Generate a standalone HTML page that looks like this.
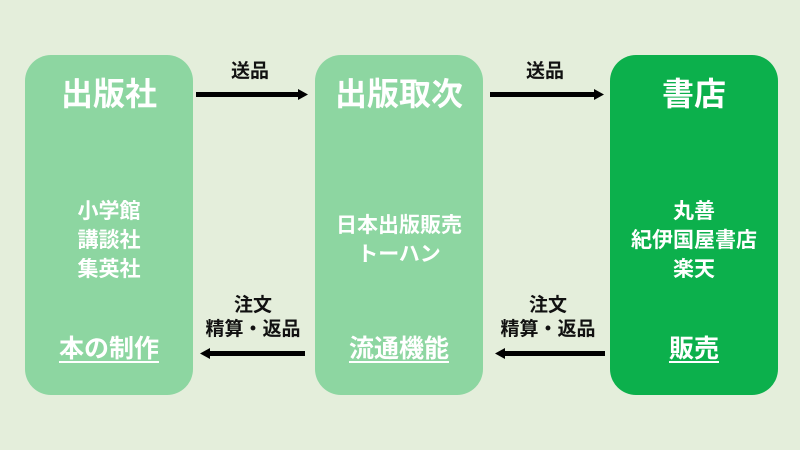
<!DOCTYPE html>
<html><head><meta charset="utf-8"><style>
body{margin:0;width:800px;height:450px;background:#e4eedb;position:relative;overflow:hidden;font-family:"Liberation Sans","Noto Sans CJK JP",sans-serif}
.b{position:absolute;top:55px;height:340px;border-radius:26px;color:#fff;text-align:center;font-weight:bold}
.t{position:absolute;top:18px;left:0;right:0;font-size:32px;line-height:42px}
.m{position:absolute;top:142px;left:0;right:0;font-size:21px;line-height:29px}
.u{position:absolute;top:276px;left:0;right:0;font-size:25px;line-height:36px;text-decoration:underline;text-underline-offset:4px}
.l{position:absolute;font-weight:bold;font-size:19px;line-height:24px;text-align:center;color:#111}
svg{position:absolute;left:0;top:0}
</style></head><body>
<div class="b" style="left:25px;width:168px;background:#8dd6a1"><div class="t">出版社</div><div class="m">小学館<br>講談社<br>集英社</div><div class="u">本の制作</div></div>
<div class="b" style="left:315px;width:168px;background:#8dd6a1"><div class="t">出版取次</div><div class="m" style="top:156px">日本出版販売<br>トーハン</div><div class="u">流通機能</div></div>
<div class="b" style="left:610px;width:168px;background:#0cb04c"><div class="t">書店</div><div class="m">丸善<br>紀伊国屋書店<br>楽天</div><div class="u">販売</div></div>
<div class="l" style="left:200px;width:100px;top:60px">送品</div>
<div class="l" style="left:495px;width:100px;top:60px">送品</div>
<div class="l" style="left:190px;width:126px;top:294px">注文<br>精算・返品</div>
<div class="l" style="left:485px;width:126px;top:294px">注文<br>精算・返品</div>
<svg width="800" height="450">
<g fill="#000">
<rect x="196" y="92" width="104" height="5"/><polygon points="298,89 308,94.5 298,100"/>
<rect x="490" y="92" width="106" height="5"/><polygon points="594,89 604,94.5 594,100"/>
<rect x="208" y="351" width="97" height="5"/><polygon points="210,348 200,353.5 210,359"/>
<rect x="503" y="351" width="102" height="5"/><polygon points="505,348 495,353.5 505,359"/>
</g></svg>
</body></html>
